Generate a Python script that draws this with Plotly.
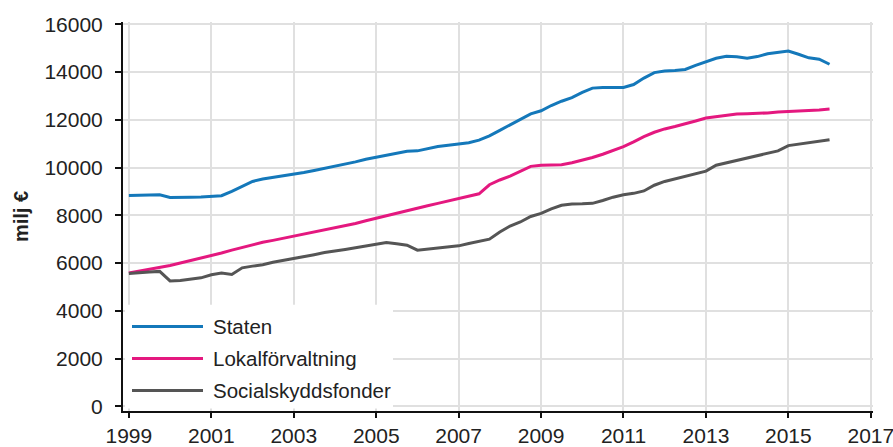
import plotly.graph_objects as go
import pandas as pd

# Quarterly observations 1999Q1 .. 2016Q1
quarters = pd.date_range("1999-01-01", "2016-01-01", freq="QS")

series_names = ["Staten", "Lokalförvaltning", "Socialskyddsfonder"]

staten = [8830, 8850, 8860, 8860, 8750, 8740, 8760, 8770, 8790, 8820, 9000, 9220,
          9420, 9520, 9590, 9650, 9700, 9790, 9880, 9970, 10060, 10130, 10240, 10350,
          10440, 10530, 10620, 10680, 10700, 10800, 10880, 10940, 10980, 11040, 11150, 11330,
          11560, 11800, 12020, 12250, 12380, 12600, 12780, 12930, 13150, 13330, 13360, 13350,
          13360, 13480, 13750, 13980, 14050, 14070, 14110, 14280, 14440, 14580, 14660, 14640,
          14580, 14650, 14770, 14840, 14880, 14750, 14600, 14540, 14330]

lokal = [5580, 5660, 5730, 5800, 5900, 6000, 6100, 6200, 6300, 6420, 6540, 6660,
         6780, 6870, 6950, 7040, 7130, 7210, 7290, 7380, 7460, 7560, 7660, 7770,
         7880, 7990, 8100, 8200, 8300, 8400, 8500, 8600, 8680, 8780, 8900, 9280,
         9480, 9640, 9850, 10050, 10100, 10100, 10120, 10200, 10300, 10420, 10560, 10720,
         10880, 11080, 11300, 11480, 11620, 11720, 11820, 11950, 12080, 12140, 12200, 12240,
         12260, 12270, 12290, 12330, 12360, 12370, 12390, 12410, 12450]

social = [5560, 5600, 5620, 5650, 5250, 5270, 5320, 5380, 5510, 5580, 5520, 5800,
          5870, 5930, 6030, 6110, 6170, 6260, 6350, 6440, 6520, 6570, 6640, 6720,
          6800, 6860, 6810, 6750, 6540, 6580, 6640, 6680, 6720, 6820, 6900, 7000,
          7300, 7550, 7720, 7950, 8080, 8270, 8420, 8470, 8480, 8500, 8620, 8760,
          8860, 8920, 9020, 9260, 9420, 9520, 9620, 9720, 9850, 10100, 10200, 10300,
          10430, 10520, 10600, 10700, 10920, 10980, 11020, 11080, 11170]

year_ticks = ["1999", "2001", "2003", "2005", "2007", "2009", "2011", "2013", "2015", "2017"]
y_ticks = [0, 2000, 4000, 6000, 8000, 10000, 12000, 14000, 16000]

colors = ["#1478BA", "#E4187F", "#555555"]

W, H = 893, 447
# plot area in screen pixels: x 123..873, y 22..411.5
ML = 123
MT = 22
MR = W - 873
MB = H - 411.5
PW, PH = W - ML - MR, H - MT - MB


def px(xs):
    return (xs - ML) / PW


def py(ys):
    return (H - MB - ys) / PH


fig = go.Figure()
for name, vals, col in zip(series_names, [staten, lokal, social], colors):
    fig.add_trace(go.Scatter(x=quarters, y=vals, name=name, mode="lines",
                             line=dict(color=col, width=3), showlegend=False))

FONT = "Liberation Sans, Arial, sans-serif"

shapes = [dict(type="rect", xref="paper", yref="paper",
               x0=px(125), x1=px(393), y0=py(409), y1=py(305),
               fillcolor="white", line=dict(width=0), layer="above")]
annotations = []
leg_y = [327, 359, 391]
for name, col, yy in zip(series_names, colors, leg_y):
    shapes.append(dict(type="line", xref="paper", yref="paper",
                       x0=px(132), x1=px(203), y0=py(yy), y1=py(yy),
                       line=dict(color=col, width=3), layer="above"))
    annotations.append(dict(text=name, xref="paper", yref="paper",
                            x=px(211), y=py(yy), xanchor="left", yanchor="middle",
                            showarrow=False, font=dict(size=20.5, color="#222", family=FONT)))

fig.update_layout(
    width=W, height=H,
    margin=dict(l=ML, r=MR, t=MT, b=MB, autoexpand=False),
    paper_bgcolor="white", plot_bgcolor="white",
    font=dict(family=FONT, size=21, color="#222"),
    shapes=shapes, annotations=annotations,
    xaxis=dict(type="date", range=["1998-11-10", "2017-01-20"],
               tickvals=[y + "-01-01" for y in year_ticks], ticktext=year_ticks,
               showgrid=True, gridcolor="#e0e0e0", gridwidth=1.5,
               showline=True, linecolor="#111", linewidth=2,
               ticks="outside", ticklen=5, tickcolor="#111", tickwidth=1.5,
               tickfont=dict(size=21), zeroline=False, automargin=False,
               ticklabeloverflow="allow"),
    yaxis=dict(range=[-200, 16100], tickvals=y_ticks, ticktext=[str(v) for v in y_ticks],
               showgrid=True, gridcolor="#e0e0e0", gridwidth=1.5,
               showline=True, linecolor="#111", linewidth=2,
               ticks="outside", ticklen=6, tickcolor="#111", tickwidth=1.5,
               tickfont=dict(size=21), zeroline=False, ticklabelstandoff=8,
               automargin=False,
               title=dict(text="<b>milj €</b>", font=dict(size=20), standoff=10)),
)

fig.write_html("out.html", config={"displayModeBar": False},
               post_script="document.body.style.margin='0';document.body.style.overflow='hidden';")
